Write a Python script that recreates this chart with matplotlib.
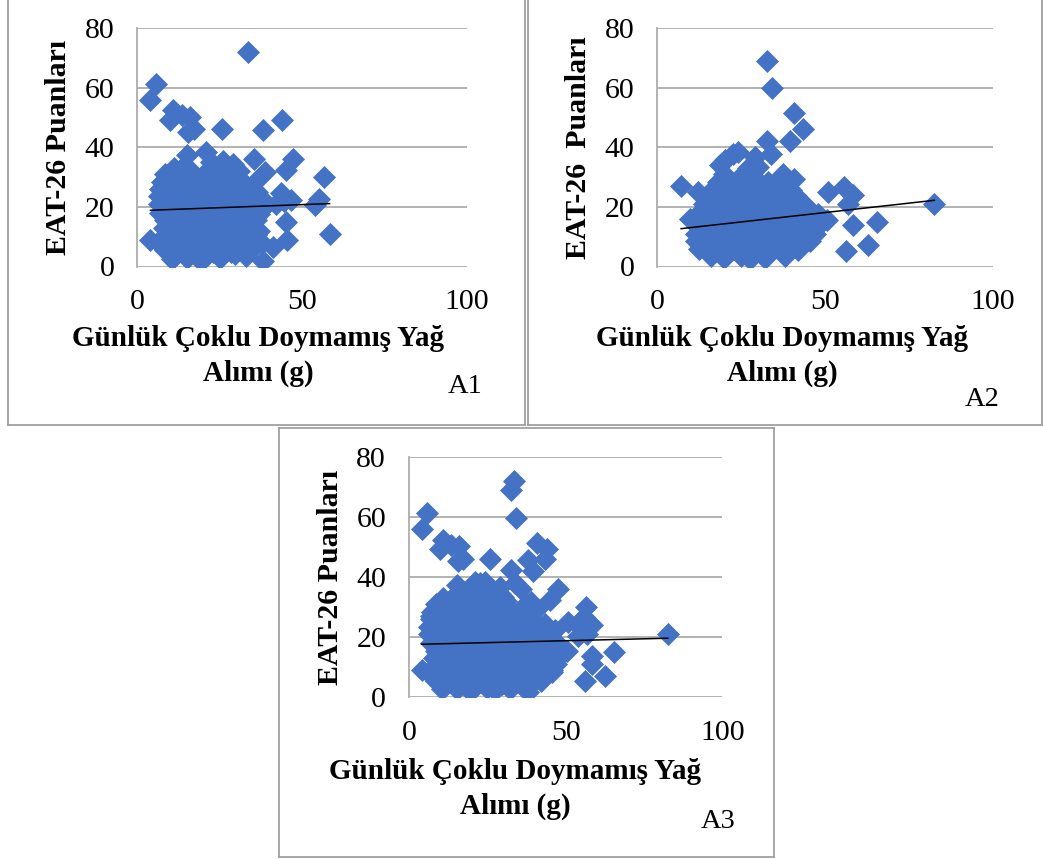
import matplotlib
matplotlib.use("Agg")
import matplotlib.pyplot as plt
from matplotlib.lines import Line2D

plt.rcParams['font.family'] = ['Liberation Serif', 'DejaVu Serif']

# ---- data: daily polyunsaturated fat intake (g) vs EAT-26 score ----
a1_points = [
    (33.6, 72.0), (5.8, 61.2), (4.0, 55.9), (10.7, 52.5), (10.0, 49.2), (13.5, 50.8),
    (16.0, 50.3), (15.5, 45.2), (17.3, 46.0), (25.8, 46.0), (38.1, 45.8), (43.9, 49.2),
    (15.2, 37.4), (21.0, 38.5), (35.6, 35.9), (38.9, 31.8), (47.4, 35.9), (45.1, 32.3),
    (56.6, 30.1), (55.1, 22.8), (54.1, 20.5), (58.4, 11.0), (45.6, 9.0), (45.1, 14.9),
    (46.6, 22.2), (41.1, 6.5), (38.1, 1.8), (4.0, 9.0), (10.5, 2.6), (19.5, 2.0), (29.6, 4.3),
    (22.5, 35), (26, 35.5), (29, 34.5),
    (11, 33), (14, 33.5), (16, 32.5), (24, 33), (27.5, 32.5), (31, 32),
    (8.5, 31), (12, 30.5), (15, 31), (20.5, 31.5), (23, 30.5), (26, 31), (29, 30),
    (7.5, 28.5), (10, 28), (13, 29), (16, 28.5), (18.5, 28), (21.5, 29), (24.5, 28.5),
    (27, 28), (30, 28.5), (33, 27.5), (35.5, 28),
    (7, 26), (9.5, 25.5), (12, 26.5), (15, 26), (17.5, 25.5), (20, 26), (23, 26.5),
    (26, 25.5), (28.5, 26), (31.5, 25.5), (34, 26), (36.5, 25), (43.5, 24.5),
    (6.5, 23.5), (9, 23), (11.5, 24), (14, 23.5), (17, 23), (19.5, 24), (22, 23.5),
    (25, 23), (27.5, 24), (30, 23.5), (33, 23), (35.5, 23.5), (38, 22.5), (44.5, 22),
    (6.5, 21), (9, 20.5), (12, 21), (14.5, 21.5), (17, 20.5), (20, 21), (22.5, 20.5),
    (25.5, 21.5), (28, 20.5), (31, 21), (33.5, 20.5), (36, 21), (39, 20.5), (42, 21),
    (7, 18), (10, 18.5), (12.5, 17.5), (15.5, 18), (18, 18.5), (21, 17.5), (23.5, 18),
    (26.5, 18.5), (29, 17.5), (32, 18), (34.5, 18.5), (37, 17.5),
    (8.5, 15.5), (11, 15), (14, 16), (16.5, 15.5), (19.5, 15), (22, 15.5), (25, 16),
    (27.5, 15), (30.5, 15.5), (33, 15), (36, 15.5),
    (8, 13), (10.5, 12.5), (13, 13.5), (16, 13), (18.5, 12.5), (21, 13), (24, 13.5),
    (26.5, 12.5), (29.5, 13), (32, 12.5), (34.5, 13), (37, 12),
    (7.5, 9.5), (9.5, 10.5), (12, 10), (15, 10.5), (17.5, 10), (20.5, 10.5), (23, 10),
    (26, 10.5), (28.5, 10), (31, 10.5), (33.5, 10), (36, 10.5),
    (7, 7.5), (10, 8), (13, 7.5), (15.5, 8), (18.5, 7.5), (21.5, 8), (24, 7.5),
    (27, 8), (30, 7.5), (32.5, 8), (35, 7.5), (38, 8),
    (8.5, 5.5), (11.5, 5), (14, 5.5), (17, 5), (20, 5.5), (23, 5), (26, 5.5),
    (28.5, 5), (31.5, 5.5), (34, 5),
    (11, 3.5), (15, 3), (21, 3.5), (25, 3), (33, 3.5),
]

a2_points = [
    (32.6, 69.0), (34.3, 59.8), (40.9, 51.4), (43.5, 46.0), (32.6, 42.2), (39.6, 42.1),
    (33.8, 37.9), (7.1, 26.9), (12.2, 25.0), (9.7, 16.0), (50.8, 25.0), (55.8, 26.7),
    (58.4, 23.9), (56.8, 21.1), (58.4, 13.8), (65.4, 14.9), (62.7, 7.1), (56.3, 5.2),
    (82.6, 20.9), (40.9, 29.3), (22.7, 37.9), (24.2, 38.5), (29.1, 36.8), (18.7, 34.0),
    (20.2, 35.7),
    (27, 33), (30, 33.5),
    (20, 31), (25.5, 31), (28.5, 30.5), (37.5, 31),
    (18, 28.5), (21, 28), (24, 29), (26.5, 28.5), (30, 28), (33, 28.5), (35.5, 28), (38, 28.5),
    (16.5, 26), (19, 25.5), (22, 26), (25, 26.5), (27.5, 25.5), (31, 26), (33.5, 25.5),
    (36.5, 26), (40, 25.5),
    (15.5, 23.5), (18, 23), (21, 23.5), (23.5, 23), (26, 24), (29, 23.5), (31.5, 23),
    (35, 23.5), (39, 23), (41.5, 23.5),
    (14, 21), (17, 20.5), (20, 21), (23, 21.5), (25.5, 20.5), (28, 21), (30.5, 21.5),
    (33, 20.5), (36, 21), (38.5, 20.5), (41, 21), (44, 20.5),
    (13, 18.5), (15.5, 18), (18, 18.5), (21, 18), (24, 18.5), (27, 18), (29.5, 18.5),
    (32, 18), (34.5, 18.5), (37, 18), (39.5, 18.5), (42, 18), (45, 18.5), (48, 17.5),
    (12.5, 16), (15, 15.5), (17.5, 16), (20, 15.5), (22.5, 16), (25.5, 15.5), (28, 16),
    (31, 15.5), (33.5, 16), (36, 15.5), (38.5, 16), (41, 15.5), (43.5, 16), (46.5, 15.5),
    (50.5, 15.5),
    (12, 13.5), (14.5, 13), (17, 13.5), (19.5, 13), (22, 13.5), (25, 13), (27.5, 13.5),
    (30, 13), (32.5, 13.5), (35, 13), (37.5, 13.5), (40, 13), (42.5, 13.5), (45, 13),
    (48, 13.5),
    (11.5, 11), (14, 10.5), (16.5, 11), (19, 10.5), (21.5, 11), (24, 10.5), (26.5, 11),
    (29, 10.5), (31.5, 11), (34, 10.5), (36.5, 11), (39, 10.5), (41.5, 11), (44, 10.5),
    (47, 11),
    (11.5, 8.5), (14, 8), (17, 8.5), (19.5, 8), (22, 8.5), (25, 8), (27.5, 8.5),
    (30, 8), (32.5, 8.5), (35, 8), (37.5, 8.5), (40, 8), (42.5, 8.5), (45.5, 8.5),
    (12.5, 6), (15, 5.5), (17.5, 6), (20.5, 5.5), (23, 6), (26, 5.5), (28.5, 6),
    (31, 5.5), (33.5, 6), (36.5, 5.5), (39, 6), (42, 5.5),
    (16, 3.5), (20, 3), (25, 3.5), (27.5, 2.5), (32, 3), (38, 3.5),
]

# panel A3 pools both groups
a3_points = a1_points + a2_points

# linear trend lines: (intercept, slope)
a1_fit = (18.7, 0.041)
a2_fit = (11.8, 0.126)
a3_fit = (17.48, 0.0256)

x_ticks = [0, 50, 100]
y_ticks = [0, 20, 40, 60, 80]
x_label = "Günlük Çoklu Doymamış Yağ\nAlımı (g)"
y_labels = ["EAT-26 Puanları", "EAT-26  Puanları", "EAT-26 Puanları"]
panel_tags = ["A1", "A2", "A3"]

W, H = 1043, 859
BLUE = "#4472C4"
GRID = "#adadad"
BOX = "#a0a0a0"

fig = plt.figure(figsize=(W / 100, H / 100), dpi=100)


def fx(px):
    return px / W


def fy(py):
    return 1 - py / H


def panel(points, fit, rect_px, ylab, tag, ylab_pos, xlab_pos, tag_pos):
    l, r, t, b = rect_px
    ax = fig.add_axes([fx(l), fy(b), fx(r - l), (b - t) / H])
    xs = [p[0] for p in points]
    ys = [p[1] for p in points]
    ax.scatter(xs, ys, marker='D', s=138, color=BLUE, linewidths=0, zorder=3)
    x0, x1 = min(xs), max(xs)
    ax.plot([x0, x1], [fit[0] + fit[1] * x0, fit[0] + fit[1] * x1],
            color='black', lw=1.1, zorder=4)
    ax.set_xlim(0, 100)
    ax.set_ylim(0, 80)
    ax.set_xticks(x_ticks)
    ax.set_yticks(y_ticks)
    ax.yaxis.grid(True, color=GRID, lw=1.3, zorder=0)
    ax.set_axisbelow(True)
    for s in ['top', 'right', 'bottom']:
        ax.spines[s].set_visible(False)
    ax.spines['left'].set_color(GRID)
    ax.spines['left'].set_linewidth(1.3)
    ax.tick_params(length=0, labelsize=21.5)
    ax.tick_params(axis='y', pad=16.5)
    ax.tick_params(axis='x', pad=16.5)
    ax.patch.set_alpha(0)
    fig.text(fx(ylab_pos[0]), fy(ylab_pos[1]), ylab, rotation=90, ha='center',
             va='center', fontsize=21.5, fontweight='bold')
    fig.text(fx(xlab_pos[0]), fy(xlab_pos[1]), x_label, ha='center', va='center',
             fontsize=21, fontweight='bold', linespacing=1.33)
    fig.text(fx(tag_pos[0]), fy(tag_pos[1]), tag, ha='center', va='center', fontsize=20.5)
    return ax


panel(a1_points, a1_fit, (137.3, 466.5, 28, 266.5), y_labels[0], panel_tags[0],
      (58, 147), (258, 356), (465, 387))
panel(a2_points, a2_fit, (657.3, 992.7, 28, 266.5), y_labels[1], panel_tags[1],
      (578, 148), (782, 356), (982, 400))
panel(a3_points, a3_fit, (409, 722.3, 457, 697), y_labels[2], panel_tags[2],
      (331, 577), (515, 789), (718, 822))

# frames around the three panels
def frame(segments):
    for (xa, ya), (xb, yb) in segments:
        fig.add_artist(Line2D([fx(xa), fx(xb)], [fy(ya), fy(yb)], color=BOX, lw=1.3))

frame([((8, -2), (8, 425)), ((8, 425), (524.5, 425)), ((524.5, 425), (524.5, -2))])
frame([((528, -2), (528, 425)), ((528, 425), (1042, 425)), ((1042, 425), (1042, -2))])
frame([((279, 427.5), (774, 427.5)), ((774, 427.5), (774, 856.5)),
       ((774, 856.5), (279, 856.5)), ((279, 856.5), (279, 427.5))])

fig.savefig("out.png", dpi=100)
